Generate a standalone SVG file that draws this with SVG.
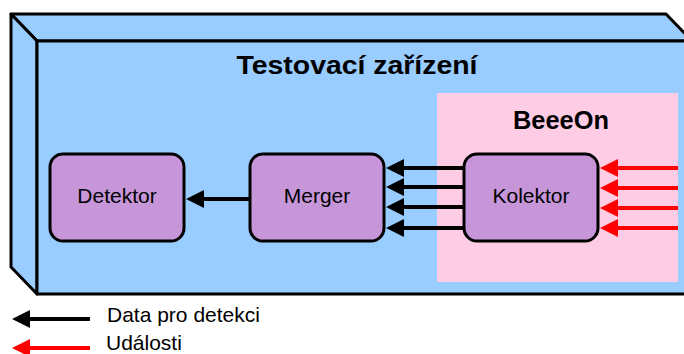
<svg xmlns="http://www.w3.org/2000/svg" width="684" height="354" viewBox="0 0 684 354">
<defs>
<style>
.box{fill:#99ccff;stroke:#000;stroke-width:3;stroke-linejoin:round}
.node{fill:#c696d9;stroke:#000;stroke-width:3}
.lbl{font-family:"Liberation Sans",Arial,sans-serif;font-size:21px;fill:#000;text-anchor:middle}
.ttl{font-family:"Liberation Sans",Arial,sans-serif;font-weight:bold;fill:#000;text-anchor:middle}
.leg{font-family:"Liberation Sans",Arial,sans-serif;font-size:21px;fill:#000}
.blk{stroke:#000;stroke-width:4;fill:none}
.red{stroke:#ff0000;stroke-width:4;fill:none}
</style>
</defs>
<g id="container">
<path class="box" d="M11,14 L666,14 L692,41 L37,41 Z"/>
<path class="box" d="M11,14 L37,41 L37,294 L11,267 Z"/>
<rect class="box" x="37" y="41" width="660" height="253"/>
<text class="ttl" x="357" y="74" font-size="26.5" textLength="241" lengthAdjust="spacingAndGlyphs">Testovací zařízení</text>
</g>
<g id="beeeon">
<rect x="437" y="93" width="241" height="189" fill="#ffcce5"/>
<text class="ttl" x="561" y="129" font-size="25" textLength="96" lengthAdjust="spacingAndGlyphs">BeeeOn</text>
</g>
<g id="detektor">
<rect class="node" x="50" y="154" width="134" height="87" rx="13"/>
<text class="lbl" x="117" y="203">Detektor</text>
</g>
<g id="merger">
<rect class="node" x="250" y="154" width="134" height="87" rx="13"/>
<text class="lbl" x="317" y="203">Merger</text>
</g>
<g id="kolektor">
<rect class="node" x="464" y="154" width="134" height="87" rx="13"/>
<text class="lbl" x="531" y="203">Kolektor</text>
</g>
<g id="connectors">
<path class="blk" d="M250,199 L203,199"/><path d="M186,199 L204,190 L204,208 Z" fill="#000"/>
<path class="blk" d="M464,168 L402,168"/><path d="M386,168 L404,159 L404,177 Z" fill="#000"/>
<path class="blk" d="M464,187 L402,187"/><path d="M386,187 L404,178 L404,196 Z" fill="#000"/>
<path class="blk" d="M464,207 L402,207"/><path d="M386,207 L404,198 L404,216 Z" fill="#000"/>
<path class="blk" d="M464,228 L402,228"/><path d="M386,228 L404,219 L404,237 Z" fill="#000"/>
<path class="red" d="M678,168 L616,168"/><path d="M600,168 L618,159 L618,177 Z" fill="#ff0000"/>
<path class="red" d="M678,188 L616,188"/><path d="M600,188 L618,179 L618,197 Z" fill="#ff0000"/>
<path class="red" d="M678,208 L616,208"/><path d="M600,208 L618,199 L618,217 Z" fill="#ff0000"/>
<path class="red" d="M678,228 L616,228"/><path d="M600,228 L618,219 L618,237 Z" fill="#ff0000"/>
</g>
<g id="legend">
<path class="blk" d="M90,319 L28,319"/><path d="M12,319 L30,310 L30,328 Z" fill="#000"/>
<text class="leg" x="107" y="322">Data pro detekci</text>
<path class="red" d="M90,348 L28,348"/><path d="M12,348 L30,339 L30,357 Z" fill="#ff0000"/>
<text class="leg" x="106" y="350">Události</text>
</g>
</svg>
